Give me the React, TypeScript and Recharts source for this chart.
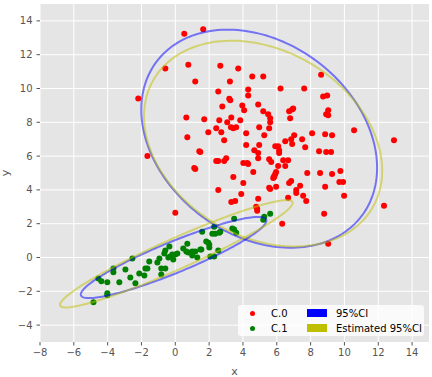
import React from 'react';
import { ScatterChart, Scatter, XAxis, YAxis, CartesianGrid } from 'recharts';

const xTicks = [-8, -6, -4, -2, 0, 2, 4, 6, 8, 10, 12, 14];
const yTicks = [-4, -2, 0, 2, 4, 6, 8, 10, 12, 14];

const c0Points: [number, number][] = [
  [0.53, 13.24], [1.65, 13.51], [-0.59, 11.18], [0.77, 11.41], [2.66, 11.35], [3.72, 11.18],
  [1.18, 10.41], [4.55, 10.71], [5.2, 10.71], [-2.19, 9.41], [2.54, 9.82], [4.31, 9.94],
  [6.22, 10.0], [7.62, 10.0], [8.62, 10.82], [3.23, 10.41], [4.31, 9.59], [3.19, 9.39],
  [3.25, 9.31], [2.78, 8.94], [3.96, 9.0], [4.07, 8.71], [4.9, 9.06], [5.2, 8.65],
  [5.49, 8.47], [5.61, 8.24], [5.61, 8.0], [0.65, 8.29], [1.71, 8.18], [2.6, 8.12],
  [3.31, 8.29], [3.07, 8.0], [3.84, 8.12], [3.29, 7.71], [3.43, 7.65], [3.6, 7.71],
  [2.42, 7.65], [1.95, 7.41], [2.72, 7.41], [4.19, 7.35], [4.96, 7.71], [5.26, 7.24],
  [5.55, 7.65], [0.71, 7.12], [2.89, 6.94], [4.19, 6.65], [4.96, 6.65], [4.67, 6.35],
  [5.91, 6.59], [6.08, 6.59], [6.14, 6.35], [6.14, 6.18], [4.9, 6.18], [4.9, 5.88],
  [1.42, 6.29], [1.48, 6.24], [-1.65, 6.0], [1.12, 5.29], [1.18, 5.24], [2.42, 5.71],
  [2.54, 5.71], [2.89, 5.71], [3.01, 5.88], [4.02, 5.59], [4.25, 5.59], [4.31, 5.53],
  [4.61, 5.06], [5.55, 5.82], [5.67, 5.65], [6.08, 5.41], [6.38, 5.76], [6.67, 5.76],
  [6.5, 5.41], [5.96, 5.06], [5.91, 4.94], [5.85, 4.82], [5.79, 4.71], [5.96, 4.18],
  [5.55, 4.12], [5.61, 4.06], [2.54, 4.0], [3.43, 4.76], [4.02, 4.41], [3.9, 3.76],
  [3.31, 3.29], [3.54, 3.35], [4.9, 3.47], [4.78, 3.0], [4.84, 2.88], [4.84, 2.76],
  [0.0, 2.65], [6.32, 2.0], [6.67, 3.53], [6.73, 4.41], [6.85, 4.53], [7.15, 4.0],
  [7.15, 3.82], [7.38, 4.24], [7.56, 3.65], [7.74, 3.35], [7.8, 5.0], [7.68, 6.53],
  [7.5, 7.0], [8.09, 7.35], [6.85, 7.0], [6.91, 6.71], [6.5, 6.88], [6.79, 8.24],
  [6.73, 8.65], [6.91, 8.76], [6.97, 8.82], [7.03, 7.24], [8.5, 6.29], [8.56, 5.0],
  [8.86, 4.18], [8.8, 2.59], [9.04, 0.82], [8.86, 7.29], [8.92, 6.24], [9.21, 6.24],
  [9.27, 7.24], [9.27, 4.94], [9.76, 5.12], [9.7, 4.47], [9.92, 4.47], [9.98, 3.65],
  [10.57, 7.53], [8.74, 9.53], [8.98, 9.59], [8.92, 8.47], [9.04, 8.71], [9.04, 8.41],
  [12.93, 6.94], [12.34, 3.06], [5.85, 4.76],
];

const c1Points: [number, number][] = [
  [-2.54, -0.06], [-3.66, -0.65], [-3.66, -0.88], [-4.55, -1.24], [-4.37, -1.41], [-4.02, -1.47],
  [-3.31, -1.47], [-2.95, -0.71], [-2.66, -1.18], [-2.36, -1.53], [-2.13, -0.94], [-1.83, -1.06],
  [-1.77, -0.65], [-1.65, -0.65], [-1.54, -0.24], [-1.06, -0.29], [-0.94, -0.06], [-0.83, -0.65],
  [-0.59, -0.65], [-0.83, -1.0], [-0.65, 0.24], [-0.59, 0.41], [-0.35, 0.65], [-0.41, 0.0],
  [-0.3, 0.06], [-0.12, -0.12], [-0.18, 0.18], [0.12, 0.24], [0.0, 0.18], [0.47, 0.53],
  [0.71, 0.82], [0.65, 0.35], [0.77, 0.29], [1.0, 0.35], [1.18, 0.35], [1.0, 0.12],
  [1.3, 0.0], [1.48, 0.47], [1.54, 0.47], [1.83, 0.94], [1.95, 0.88], [2.01, 0.76],
  [2.01, 0.59], [2.07, 0.06], [2.3, 0.06], [2.54, 0.41], [1.59, 1.53], [2.3, 1.82],
  [2.19, 1.41], [2.36, 1.41], [2.6, 1.47], [2.66, 1.53], [3.37, 1.71], [3.48, 2.29],
  [3.48, 1.65], [3.6, 1.47], [5.2, 2.24], [5.26, 2.41], [5.61, 2.59], [-4.02, -2.12],
  [-4.02, -2.24], [-4.84, -2.65],
];

// Confidence ellipses: center, semi-axes and rotation
const ellipseNames = ['C.0 95%CI', 'C.0 Estimated 95%CI', 'C.1 95%CI', 'C.1 Estimated 95%CI'];
const ellipseCx = [4.96, 5.19, -0.1, 0.06];
const ellipseCy = [7.03, 6.74, 0.0, 0.22];
const ellipseA = [7.59, 7.5, 5.92, 7.52];
const ellipseB = [5.71, 5.51, 0.92, 0.91];
const ellipseAngle = [-36.9, -30.5, 22.3, 24.05];
const ellipseColor = ['rgba(0,0,255,0.5)', 'rgba(191,191,0,0.5)', 'rgba(0,0,255,0.5)', 'rgba(191,191,0,0.5)'];

const legendPoints = [
  { label: 'C.0', color: '#ff0000' },
  { label: 'C.1', color: '#008000' },
];
const legendPatches = [
  { label: '95%CI', color: '#0000ff' },
  { label: 'Estimated 95%CI', color: '#bfbf00' },
];

function ellipsePath(i: number) {
  const th = (ellipseAngle[i] * Math.PI) / 180;
  const pts: { x: number; y: number }[] = [];
  const n = 180;
  for (let k = 0; k <= n; k++) {
    const t = (2 * Math.PI * k) / n;
    const u = ellipseA[i] * Math.cos(t);
    const v = ellipseB[i] * Math.sin(t);
    pts.push({
      x: ellipseCx[i] + u * Math.cos(th) - v * Math.sin(th),
      y: ellipseCy[i] + u * Math.sin(th) + v * Math.cos(th),
    });
  }
  return pts;
}

const c0Data = c0Points.map(([x, y]) => ({ x, y }));
const c1Data = c1Points.map(([x, y]) => ({ x, y }));

const dot = (color: string) => (props: any) => (
  <circle cx={props.cx} cy={props.cy} r={3} fill={color} />
);
const noDot = () => <g />;

const font = 'DejaVu Sans, sans-serif';
const fmt = (v: number) => (v < 0 ? '\u2212' + Math.abs(v) : String(v));

const YLabel = (props: any) => {
  const vb = props.viewBox || { y: 4, height: 338 };
  const cy = vb.y + vb.height / 2;
  return (
    <text x={9} y={cy} transform={`rotate(-90, 9, ${cy})`} textAnchor="middle" fill="#555555" fontSize={11} fontFamily={font}>
      y
    </text>
  );
};

export default function App() {
  return (
    <div style={{ position: 'absolute', left: 0, top: 0, width: 432, height: 377, fontFamily: font }}>
      <ScatterChart width={432} height={377} margin={{ top: 4, right: 3, bottom: 0, left: 0 }}>
        <CartesianGrid fill="#e5e5e5" stroke="#ffffff" strokeWidth={1} horizontalValues={yTicks} verticalValues={xTicks} />
        <XAxis
          type="number"
          dataKey="x"
          domain={[-8, 15]}
          ticks={xTicks}
          allowDataOverflow
          height={35}
          axisLine={false}
          tickLine={{ stroke: '#555555' }}
          tickSize={3.5}
          tickMargin={3}
          tick={{ fill: '#555555', fontSize: 10, fontFamily: font }}
          label={{ value: 'x', position: 'insideBottom', offset: 2, fill: '#555555', fontSize: 11, fontFamily: font }}
          tickFormatter={fmt}
        />
        <YAxis
          type="number"
          dataKey="y"
          domain={[-5, 15]}
          ticks={yTicks}
          allowDataOverflow
          width={40}
          axisLine={false}
          tickLine={{ stroke: '#555555' }}
          tickSize={3.5}
          tickMargin={4}
          tick={{ fill: '#555555', fontSize: 10, fontFamily: font }}
          label={<YLabel />}
          tickFormatter={fmt}
        />
        <Scatter name="C.0" data={c0Data} shape={dot('#ff0000')} isAnimationActive={false} />
        <Scatter name="C.1" data={c1Data} shape={dot('#008000')} isAnimationActive={false} />
        {ellipseNames.map((nm, i) => (
          <Scatter
            key={nm}
            name={nm}
            data={ellipsePath(i)}
            shape={noDot}
            line={{ stroke: ellipseColor[i], strokeWidth: 2 }}
            lineType="joint"
            isAnimationActive={false}
          />
        ))}
      </ScatterChart>
      <div
        style={{
          position: 'absolute',
          left: 238,
          top: 305,
          width: 186,
          height: 31,
          background: 'rgba(255,255,255,0.8)',
          borderRadius: 3,
          fontSize: 10,
          color: '#000',
          fontFamily: font,
        }}
      >
        {legendPoints.map((p, i) => (
          <div key={p.label} style={{ position: 'absolute', left: 0, top: 2 + i * 15, height: 12, display: 'flex', alignItems: 'center' }}>
            <span style={{ position: 'absolute', left: 12, width: 5, height: 5, borderRadius: 3, background: p.color }} />
            <span style={{ position: 'absolute', left: 33, whiteSpace: 'nowrap' }}>{p.label}</span>
          </div>
        ))}
        {legendPatches.map((p, i) => (
          <div key={p.label} style={{ position: 'absolute', left: 0, top: 2 + i * 15, height: 12, display: 'flex', alignItems: 'center' }}>
            <span style={{ position: 'absolute', left: 69, width: 20, height: 8, background: p.color }} />
            <span style={{ position: 'absolute', left: 98, whiteSpace: 'nowrap' }}>{p.label}</span>
          </div>
        ))}
      </div>
    </div>
  );
}
